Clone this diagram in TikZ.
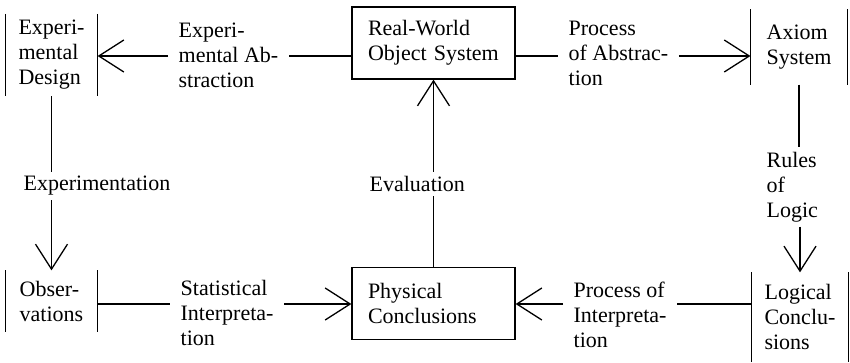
\documentclass[tikz,border=0pt]{standalone}
\usepackage{fontspec}
\setmainfont{Liberation Serif}
\usepackage{tikz}
\usetikzlibrary{arrows.meta, positioning}
\hfuzz=40pt
\exhyphenpenalty=10000
\hyphenpenalty=10000

\begin{document}
\begin{tikzpicture}[
  x=1pt, y=-1pt,
  font=\fontsize{22}{25}\selectfont,
  line width=1.3pt,
  sidebox/.style={align=left, inner ysep=0pt},
  framebox/.style={draw, align=left, inner xsep=16pt, inner ysep=0pt,
                   text width=131pt, minimum height=72pt},
  labelnode/.style={align=left, inner xsep=10pt, inner ysep=4pt},
  >={Straight Barb[length=25pt, width=32pt]}
]
  \useasboundingbox (0,0) rectangle (850,362);

  %------------------------------------------------------------
  %  PARAMETERS
  %------------------------------------------------------------
  \def\ytop{56}     % height of the upper connectors
  \def\ybot{304}    % height of the lower connectors
  \coordinate (rowtop) at (0,\ytop);
  \coordinate (rowbot) at (0,\ybot);

  %------------------------------------------------------------
  %  SIDE-BAR ITEMS (four corners)
  %------------------------------------------------------------
  \node[sidebox, inner xsep=12.5pt, minimum height=81pt] (ED) at (51.5,55)  {Experi-\\mental\\Design};
  \node[sidebox, inner xsep=13.5pt, minimum height=60pt] (OB) at (51.5,301) {Obser-\\vations};
  \node[sidebox, inner xsep=15.5pt, minimum height=74pt] (AX) at (799,47)   {Axiom\\System};
  \node[sidebox, inner xsep=12.5pt, minimum height=88pt] (LC) at (800,317)  {Logical\\Conclu-\\sions};

  \foreach \n in {ED, OB, AX, LC} {
    \draw (\n.north west) -- (\n.south west)
          (\n.north east) -- (\n.south east);
  }

  %------------------------------------------------------------
  %  BOXES (middle column)
  %------------------------------------------------------------
  \node[framebox] (RW) at (433.5,43)    {Real-World\\Object System};
  \node[framebox] (PC) at (433.5,303.5) {Physical\\Conclusions};

  %------------------------------------------------------------
  %  PROCESS LABELS
  %------------------------------------------------------------
  \node[labelnode, anchor=west] (EA) at (168,55)  {Experi-\\mental Ab-\\straction};
  \node[labelnode, anchor=west] (PA) at (558,53)  {Process\\of Abstrac-\\tion};
  \node[labelnode, anchor=west] (SI) at (170,313) {Statistical\\Interpreta-\\tion};
  \node[labelnode, anchor=west] (PI) at (563,315) {Process of\\Interpreta-\\tion};
  \node[labelnode, anchor=west] (RL) at (756,187) {Rules\\of\\Logic};
  \node[labelnode, anchor=west] (XP) at (13,186)  {Experimentation};
  \node[labelnode, anchor=west] (EV) at (359,184) {Evaluation};

  %------------------------------------------------------------
  %  UPPER ROW:  object system -> design / axioms
  %------------------------------------------------------------
  \draw    (RW.west |- rowtop) -- (EA.east |- rowtop);
  \draw[->] (EA.west |- rowtop) -- (ED.east |- rowtop);
  \draw    (RW.east |- rowtop) -- (PA.west |- rowtop);
  \draw[->] (PA.east |- rowtop) -- (AX.west |- rowtop);

  %------------------------------------------------------------
  %  COLUMNS:  downwards at the sides, upwards in the middle
  %------------------------------------------------------------
  \draw    (ED.south) -- (ED.south |- XP.north);
  \draw[->] (OB.north |- XP.south) -- (OB.north);
  \draw    (AX.south) -- (AX.south |- RL.north);
  \draw[->] (LC.north |- RL.south) -- (LC.north);
  \draw    (PC.north) -- (PC.north |- EV.south);
  \draw[->] (RW.south |- EV.north) -- (RW.south);

  %------------------------------------------------------------
  %  LOWER ROW:  observations / logic -> physical conclusions
  %------------------------------------------------------------
  \draw    (OB.east |- rowbot) -- (SI.west |- rowbot);
  \draw[->] (SI.east |- rowbot) -- (PC.west |- rowbot);
  \draw    (LC.west |- rowbot) -- (PI.east |- rowbot);
  \draw[->] (PI.west |- rowbot) -- (PC.east |- rowbot);

\end{tikzpicture}
\end{document}
